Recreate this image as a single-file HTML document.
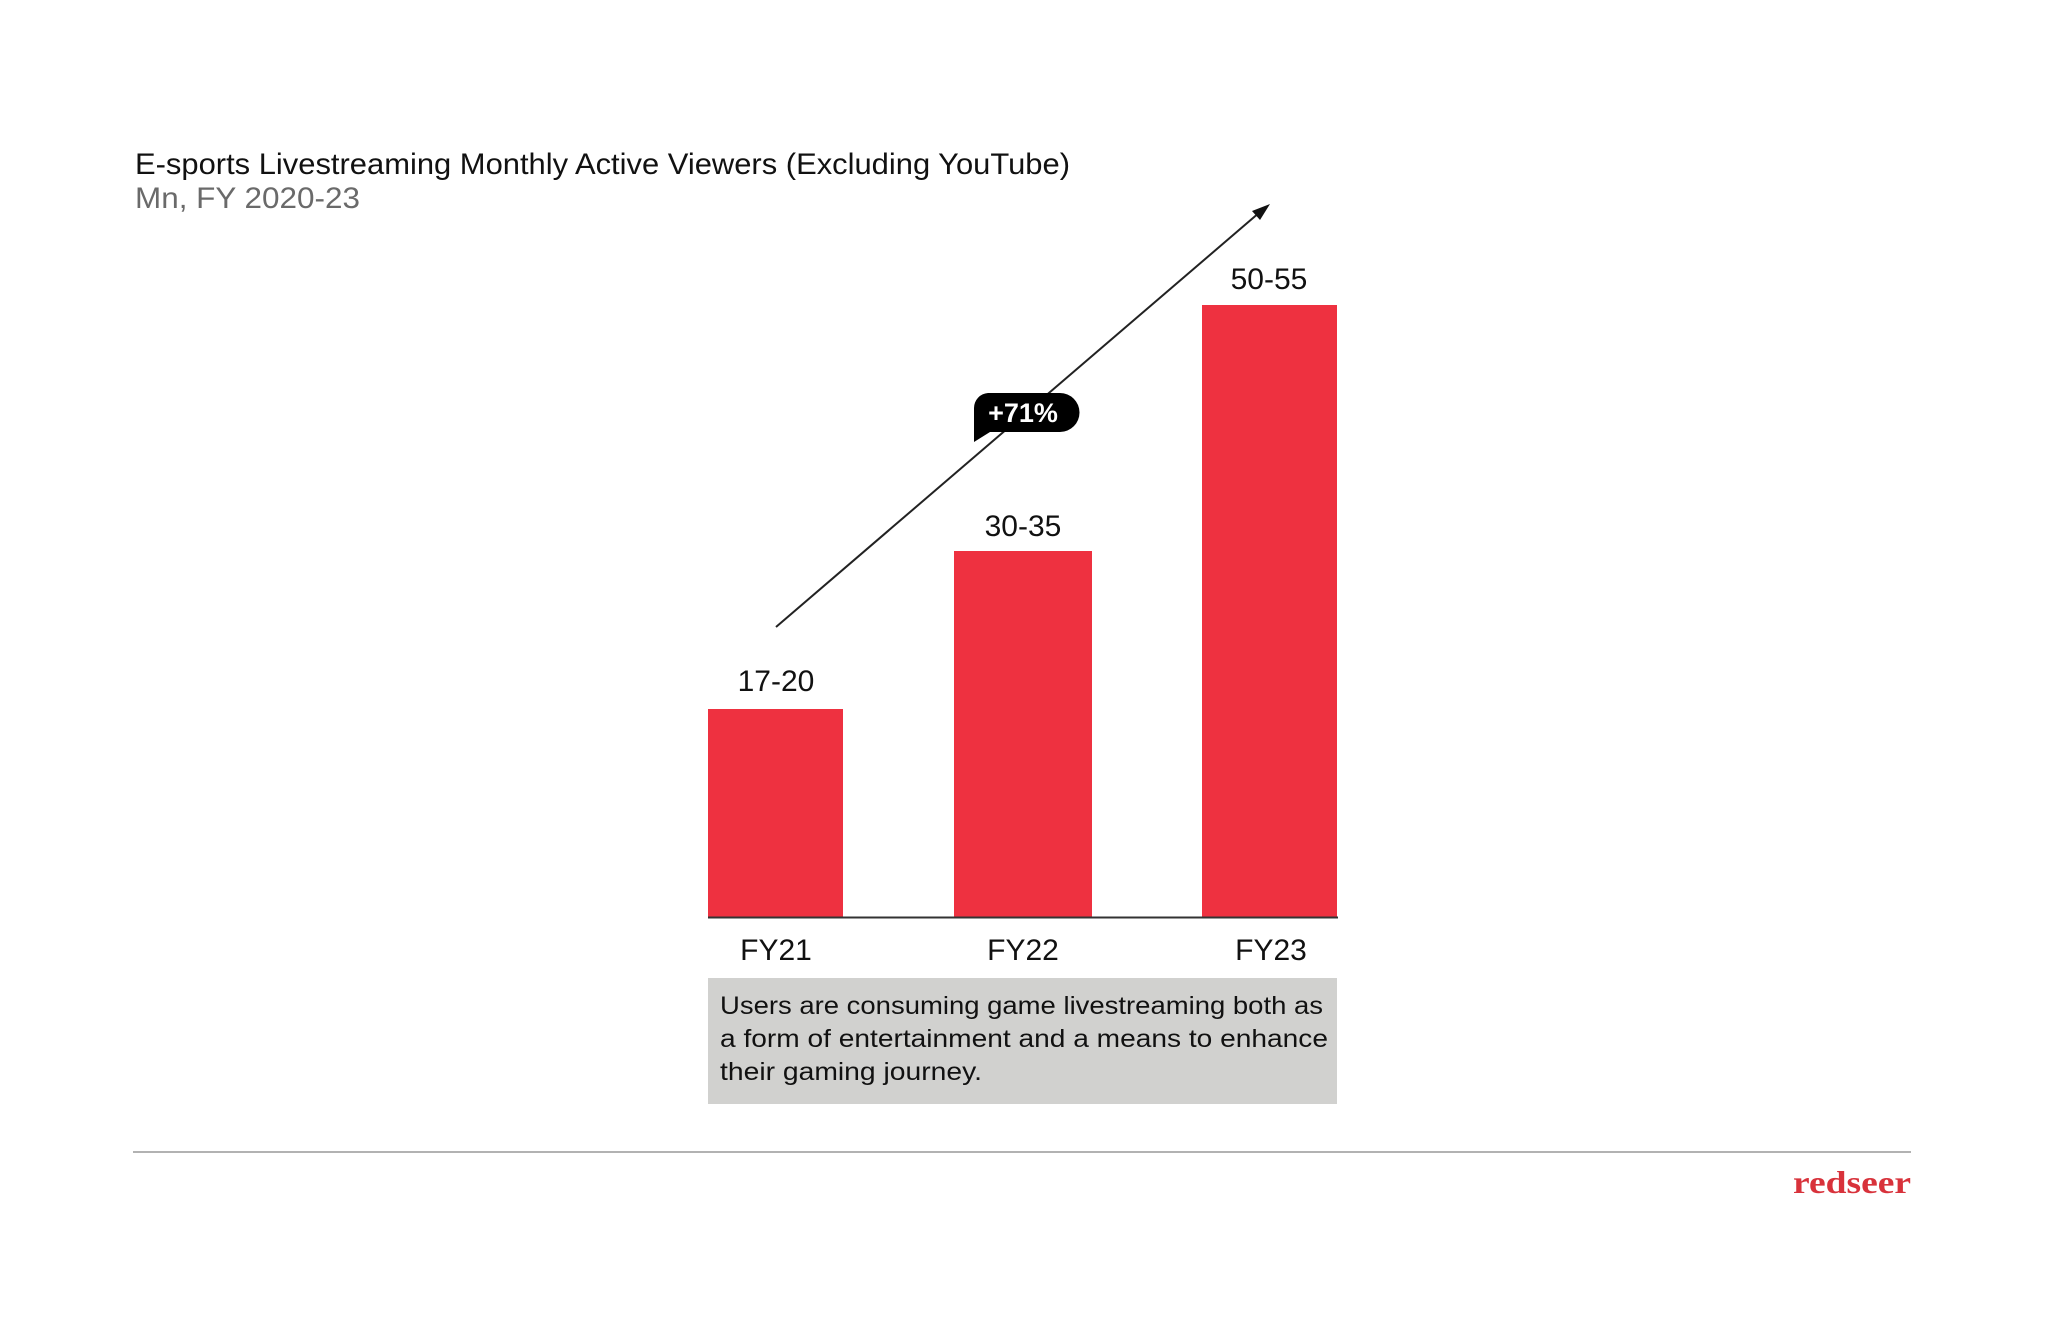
<!DOCTYPE html>
<html><head><meta charset="utf-8"><style>
html,body{margin:0;padding:0;background:#fff;}
svg{display:block;}
text{font-family:"Liberation Sans",sans-serif;}
</style></head><body>
<svg width="2048" height="1336" viewBox="0 0 2048 1336" xmlns="http://www.w3.org/2000/svg">
<rect width="2048" height="1336" fill="#fff"/>
<text x="135" y="174" font-size="30" fill="#111" textLength="935" lengthAdjust="spacingAndGlyphs">E-sports Livestreaming Monthly Active Viewers (Excluding YouTube)</text>
<text x="135" y="208" font-size="30" fill="#6a6a6a" textLength="225" lengthAdjust="spacingAndGlyphs">Mn, FY 2020-23</text>
<rect x="708" y="709" width="135" height="208" fill="#EE3140"/>
<rect x="954" y="551" width="138" height="366" fill="#EE3140"/>
<rect x="1202" y="305" width="135" height="612" fill="#EE3140"/>
<line x1="708" y1="917.5" x2="1338" y2="917.5" stroke="#333" stroke-width="2"/>
<text x="776" y="691" font-size="30" fill="#111" text-anchor="middle">17-20</text>
<text x="1023" y="536" font-size="30" fill="#111" text-anchor="middle">30-35</text>
<text x="1269" y="289" font-size="30" fill="#111" text-anchor="middle">50-55</text>
<line x1="776" y1="627" x2="1260" y2="212" stroke="#222" stroke-width="2"/>
<polygon points="1270,204 1252,211 1260,220" fill="#111"/>
<path d="M988,393 H1060 A19.5,19.5 0 0 1 1060,432 H990 L974,442 V408 A15,15 0 0 1 988,393 Z" fill="#000"/>
<text x="1023" y="422" font-size="27" font-weight="bold" fill="#fff" text-anchor="middle">+71%</text>
<text x="776" y="960" font-size="30" fill="#111" text-anchor="middle">FY21</text>
<text x="1023" y="960" font-size="30" fill="#111" text-anchor="middle">FY22</text>
<text x="1271" y="960" font-size="30" fill="#111" text-anchor="middle">FY23</text>
<rect x="708" y="978" width="629" height="126" fill="#d1d1cf"/>
<text x="720" y="1014" font-size="25" fill="#111" textLength="603" lengthAdjust="spacingAndGlyphs">Users are consuming game livestreaming both as</text>
<text x="720" y="1047" font-size="25" fill="#111" textLength="608" lengthAdjust="spacingAndGlyphs">a form of entertainment and a means to enhance</text>
<text x="720" y="1080" font-size="25" fill="#111" textLength="262" lengthAdjust="spacingAndGlyphs">their gaming journey.</text>
<line x1="133" y1="1152" x2="1911" y2="1152" stroke="#999" stroke-width="1.5"/>
<text x="1911" y="1193" font-size="32" font-weight="bold" fill="#d8323b" text-anchor="end" font-family="Liberation Serif,serif" style="font-family:'Liberation Serif',serif" textLength="118" lengthAdjust="spacingAndGlyphs">redseer</text>
</svg>
</body></html>
